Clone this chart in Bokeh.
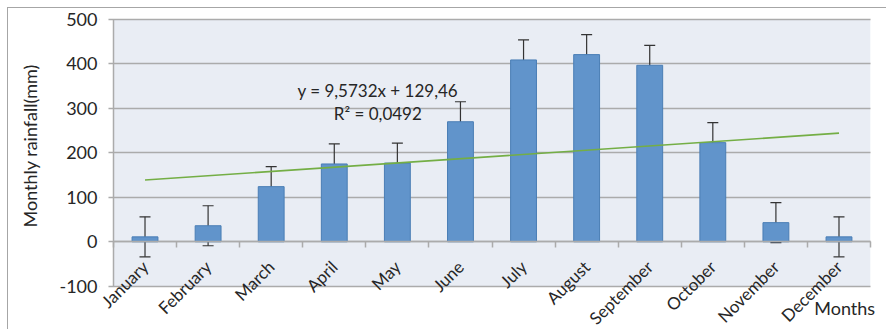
import math
import numpy as np
from bokeh.plotting import figure
from bokeh.models import (ColumnDataSource, Range1d, FixedTicker, LinearAxis, Whisker,
                          TeeHead, Label, Title, BoxAnnotation)
from bokeh.embed import file_html
from bokeh.resources import INLINE

months = ["January", "February", "March", "April", "May", "June", "July",
          "August", "September", "October", "November", "December"]
rainfall = [11, 36, 124, 175, 177, 270, 409, 421, 397, 223, 43, 11]
error = [45, 45, 45, 45, 45, 45, 45, 45, 45, 45, 45, 45]
trend_slope = 9.5732
trend_intercept = 129.46
trend_r2 = 0.0492
y_ticks = [-100, 0, 100, 200, 300, 400, 500]
x_title = "Months"
y_title = "Monthly rainfall(mm)"

FONT = "Lato"
TXT = "#262626"
GRID = "#ABABAB"

x = np.arange(1, len(months) + 1)
src = ColumnDataSource(dict(
    x=x, top=rainfall,
    upper=[v + e for v, e in zip(rainfall, error)],
    lower=[v - e for v, e in zip(rainfall, error)],
))

# frame: x 97..886 px, y 15..329 px ; plot area 111..870 x 19..285.7
PX_X = 63.25           # px per category
PX_Y = 266.7 / 600     # px per mm
p = figure(width=886, height=329, output_backend="svg", toolbar_location=None,
           x_range=Range1d(0.5 - 14 / PX_X, 12.5 + 16 / PX_X),
           y_range=Range1d(-100 - 43.3 / PX_Y, 500 + 4 / PX_Y),
           min_border_left=97, min_border_right=0, min_border_top=15,
           min_border_bottom=0, x_axis_location=None, y_axis_location=None)
p.outline_line_color = None
p.background_fill_color = "white"
p.border_fill_color = "white"
p.border_fill_alpha = 0
p.styles = {
    "background": "linear-gradient(#A6A6A6, #A6A6A6) 7px 7px / 1px 100% no-repeat, "
                  "linear-gradient(#A6A6A6, #A6A6A6) 7px 7px / 100% 1px no-repeat, white"
}

# plot-area background
p.add_layout(BoxAnnotation(left=0.5, right=12.5, bottom=-100, top=500,
                           fill_color="#E9EDF4", fill_alpha=1, line_color=None,
                           level="image"))

p.ygrid.ticker = FixedTicker(ticks=y_ticks)
p.xgrid.visible = False
p.ygrid.grid_line_color = GRID
p.ygrid.grid_line_width = 1.5

# trim gridlines so they start 5px left of the plot area and stop at its right edge
p.add_layout(BoxAnnotation(right=0.5 - 5 / PX_X, fill_color="white", fill_alpha=1,
                           line_color=None, level="glyph"))
p.add_layout(BoxAnnotation(left=12.5, fill_color="white", fill_alpha=1,
                           line_color=None, level="glyph"))

# y tick labels
yax = LinearAxis(ticker=FixedTicker(ticks=y_ticks),
                 major_label_overrides={t: str(t) for t in y_ticks})
yax.axis_line_color = None
yax.major_tick_line_color = None
yax.major_tick_out = 0
yax.major_tick_in = 0
yax.minor_tick_line_color = None
yax.minor_tick_out = 0
yax.major_label_text_font = FONT
yax.major_label_text_font_size = "18px"
yax.major_label_text_color = TXT
yax.major_label_standoff = 2
p.add_layout(yax, "left")
p.add_layout(Title(text=y_title, align="left", offset=102, standoff=32,
                   text_font=FONT, text_font_size="18px", text_font_style="normal",
                   text_color=TXT), "left")

# y axis line at the plot-area edge
yline = LinearAxis(ticker=FixedTicker(ticks=[]), fixed_location=0.5, bounds=(-100, 500))
yline.axis_line_color = GRID
yline.axis_line_width = 1.5
yline.major_tick_line_color = None
yline.minor_tick_line_color = None
yline.major_label_text_font_size = "0px"
p.add_layout(yline, "left")

# category axis line at y = 0 with boundary ticks
xax = LinearAxis(ticker=FixedTicker(ticks=list(np.arange(0.5, 13, 1.0))),
                 fixed_location=0, bounds=(0.5, 12.5))
xax.axis_line_color = GRID
xax.axis_line_width = 1.5
xax.major_tick_line_color = GRID
xax.major_tick_line_width = 1.5
xax.major_tick_out = 6
xax.major_tick_in = 0
xax.minor_tick_line_color = None
xax.major_label_text_font_size = "0px"
xax.major_label_text_alpha = 0
p.add_layout(xax, "below")

# month labels hanging below the zero line
lax = LinearAxis(ticker=FixedTicker(ticks=list(x)), fixed_location=0,
                 major_label_overrides={int(i): m for i, m in zip(x, months)})
lax.axis_line_color = None
lax.major_tick_line_color = None
lax.minor_tick_line_color = None
lax.major_tick_out = 0
lax.minor_tick_out = 0
lax.major_label_orientation = math.pi / 4
lax.major_label_text_font = FONT
lax.major_label_text_font_size = "17px"
lax.major_label_text_color = TXT
lax.major_label_standoff = 22
p.add_layout(lax, "below")

p.vbar(x="x", top="top", bottom=0, width=0.41, source=src,
       fill_color="#6194CB", line_color="#4A7EB5", line_width=1)

p.add_layout(Whisker(source=src, base="x", upper="upper", lower="lower",
                     line_color="#333333", line_width=1.2,
                     upper_head=TeeHead(size=11, line_color="#333333", line_width=1.2),
                     lower_head=TeeHead(size=11, line_color="#333333", line_width=1.2)))

tx = np.array([x[0], x[-1]])
p.line(tx, trend_slope * tx + trend_intercept, line_color="#74AE45", line_width=1.6)

def fmt(v, d):
    return f"{v:.{d}f}".replace(".", ",")

p.add_layout(Label(x=4.69, y=340, text=f"y = {fmt(trend_slope, 4)}x + {fmt(trend_intercept, 2)}",
                   text_align="center", text_baseline="middle", text_font=FONT,
                   text_font_size="17px", text_color=TXT))
p.add_layout(Label(x=4.69, y=288, text=f"R² = {fmt(trend_r2, 4)}",
                   text_align="center", text_baseline="middle", text_font=FONT,
                   text_font_size="17px", text_color=TXT))
p.add_layout(Label(x=12.09, y=-148, text=x_title,
                   text_align="center", text_baseline="middle", text_font=FONT,
                   text_font_size="18px", text_color=TXT))

open("out.html", "w").write(file_html(p, INLINE))
